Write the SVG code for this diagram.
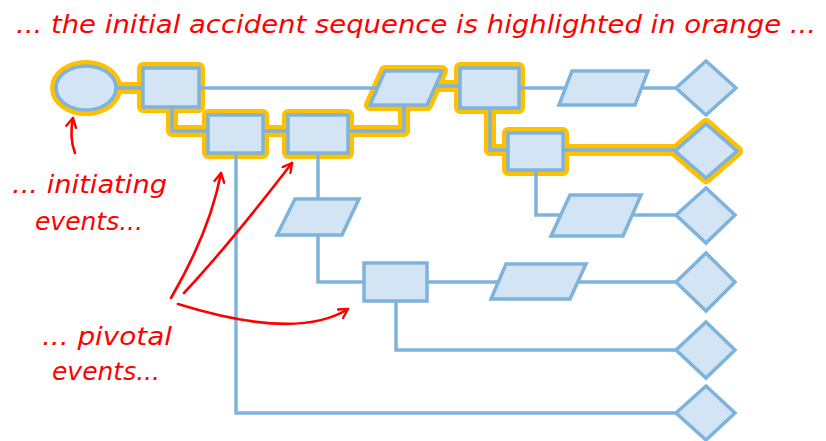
<svg xmlns="http://www.w3.org/2000/svg" width="826" height="441" viewBox="0 0 826 441">
<defs>
<style>
.n{fill:#D3E5F4;stroke:#7DB3DC;stroke-width:3.5;stroke-linejoin:miter}
.c{fill:none;stroke:#7DB3DC;stroke-width:3.5}
.h{fill:none;stroke:#FFC000;stroke-width:12;stroke-linejoin:round;stroke-linecap:round}
.hl{fill:none;stroke:#FFC000;stroke-width:12;stroke-linejoin:round}
.t{font-family:"DejaVu Sans","Liberation Sans",sans-serif;font-style:italic;font-size:24px;fill:#FF0000}
.a{fill:none;stroke:#FF0000;stroke-width:2.6;stroke-linecap:round;stroke-linejoin:round}
</style>
<marker id="ah" viewBox="0 0 12 12" refX="10" refY="6" markerWidth="12" markerHeight="12" markerUnits="userSpaceOnUse" orient="auto">
<path d="M1,1 L10,6 L1,11" fill="none" stroke="#FF0000" stroke-width="2.4" stroke-linecap="round" stroke-linejoin="round"/>
</marker>
</defs>
<rect width="826" height="441" fill="#FFFFFF"/>

<g id="highlight">
<ellipse class="h" cx="86" cy="88" rx="30" ry="22"/>
<rect class="h" x="143" y="68" width="56" height="39"/>
<rect class="h" x="208" y="115" width="55" height="38"/>
<rect class="h" x="288" y="115" width="60" height="38"/>
<polygon class="h" points="385,71 442,71 427,105 370,105"/>
<rect class="h" x="460" y="68" width="59" height="40"/>
<rect class="h" x="508" y="133" width="55" height="37"/>
<polygon class="h" points="706,124 737,151 706,178 675,151"/>
<polyline class="hl" points="116,88 143,88"/>
<polyline class="hl" points="172,107 172,131 208,131"/>
<polyline class="hl" points="263,131 288,131"/>
<polyline class="hl" points="348,131 404,131 404,105"/>
<polyline class="hl" points="435,86 460,86"/>
<polyline class="hl" points="490,108 490,150 508,150"/>
<polyline class="hl" points="563,150 675,150"/>
</g>

<g id="connectors">
<polyline class="c" points="116,88 143,88"/>
<polyline class="c" points="199,88 378,88"/>
<polyline class="c" points="172,107 172,131 208,131"/>
<polyline class="c" points="263,131 288,131"/>
<polyline class="c" points="348,131 404,131 404,105"/>
<polyline class="c" points="435,86 460,86"/>
<polyline class="c" points="519,88 566,88"/>
<polyline class="c" points="642,88 676,88"/>
<polyline class="c" points="490,108 490,150 508,150"/>
<polyline class="c" points="563,150 675,150"/>
<polyline class="c" points="536,170 536,215 561,215"/>
<polyline class="c" points="632,215 676,215"/>
<polyline class="c" points="318,153 318,282 364,282"/>
<polyline class="c" points="427,282 499,282"/>
<polyline class="c" points="578,282 676,282"/>
<polyline class="c" points="396,301 396,350 676,350"/>
<polyline class="c" points="236,153 236,413 676,413"/>
</g>

<g id="initiating-event">
<ellipse class="n" cx="86" cy="88" rx="30" ry="22"/>
</g>
<g id="pivot-1"><rect class="n" x="143" y="68" width="56" height="39"/></g>
<g id="pivot-2"><rect class="n" x="208" y="115" width="55" height="38"/></g>
<g id="pivot-3"><rect class="n" x="288" y="115" width="60" height="38"/></g>
<g id="data-1"><polygon class="n" points="385,71 442,71 427,105 370,105"/></g>
<g id="pivot-4"><rect class="n" x="460" y="68" width="59" height="40"/></g>
<g id="data-2"><polygon class="n" points="572,71 648,71 635,105 559,105"/></g>
<g id="end-1"><polygon class="n" points="706,61 736,88 706,115 676,88"/></g>
<g id="pivot-5"><rect class="n" x="508" y="133" width="55" height="37"/></g>
<g id="end-2"><polygon class="n" points="706,124 737,151 706,178 675,151"/></g>
<g id="data-3"><polygon class="n" points="570,195 641,195 623,236 551,236"/></g>
<g id="end-3"><polygon class="n" points="706,188 735,215 706,243 676,215"/></g>
<g id="data-5"><polygon class="n" points="295,199 359,199 342,235 277,235"/></g>
<g id="pivot-6"><rect class="n" x="364" y="263" width="63" height="38"/></g>
<g id="data-4"><polygon class="n" points="506,264 586,264 570,299 491,299"/></g>
<g id="end-4"><polygon class="n" points="706,253 735,282 706,311 676,282"/></g>
<g id="end-5"><polygon class="n" points="706,322 735,350 706,378 676,350"/></g>
<g id="end-6"><polygon class="n" points="706,386 735,413 706,440 676,413"/></g>

<g id="annotations">
<text class="t" x="16" y="33" textLength="800" lengthAdjust="spacingAndGlyphs">... the initial accident sequence is highlighted in orange ...</text>
<text class="t" x="12" y="193" textLength="155" lengthAdjust="spacingAndGlyphs">... initiating</text>
<text class="t" x="35" y="230" textLength="108" lengthAdjust="spacingAndGlyphs">events...</text>
<text class="t" x="42" y="345" textLength="130" lengthAdjust="spacingAndGlyphs">... pivotal</text>
<text class="t" x="52" y="380" textLength="108" lengthAdjust="spacingAndGlyphs">events...</text>
<path class="a" d="M75,153 Q69,137 73,118" marker-end="url(#ah)"/>
<path class="a" d="M171,298 Q210,231 221,173" marker-end="url(#ah)"/>
<path class="a" d="M184,293 Q228,246 292,163" marker-end="url(#ah)"/>
<path class="a" d="M178,304 Q297,341 348,309" marker-end="url(#ah)"/>
</g>
</svg>
